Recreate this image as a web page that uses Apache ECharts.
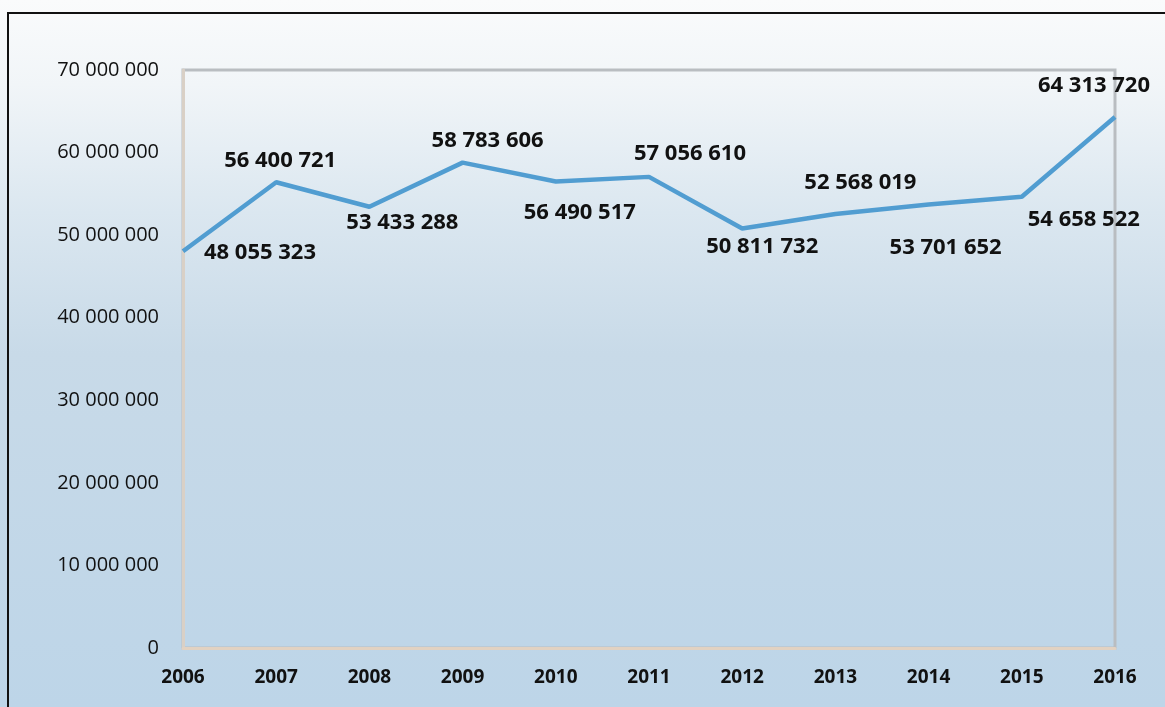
<!DOCTYPE html>
<html>
<head>
<meta charset="utf-8">
<script src="https://cdn.jsdelivr.net/npm/echarts@6/dist/echarts.min.js"></script>
<style>
html,body{margin:0;padding:0;background:#fff;}
#chart{width:1165px;height:707px;}
</style>
</head>
<body>
<div id="chart"></div>
<script>
var years = ['2006','2007','2008','2009','2010','2011','2012','2013','2014','2015','2016'];
var values = [48055323, 56400721, 53433288, 58783606, 56490517, 57056610, 50811732, 52568019, 53701652, 54658522, 64313720];
var labelOffsets = [[77,2],[4,-22],[33,16],[25,-22],[24,31],[41,-23],[20,18],[25,-31],[17,43],[62,23],[-21,-31]];

function fmt(v){
  return String(Math.round(v)).replace(/\B(?=(\d{3})+(?!\d))/g, ' ');
}

var chart = echarts.init(document.getElementById('chart'), null, {renderer:'canvas'});
var seriesData = values.map(function(v,i){
  return {
    value: v,
    label: {offset: labelOffsets[i]}
  };
});

chart.setOption({
  animation: false,
  backgroundColor: {
    type: 'linear', x: 0, y: 0, x2: 0, y2: 1,
    colorStops: [
      {offset: 0, color: '#fafbfc'},
      {offset: 0.12, color: '#f1f5f8'},
      {offset: 0.3, color: '#dbe7f0'},
      {offset: 0.5, color: '#c8dae8'},
      {offset: 1, color: '#bdd5e8'}
    ]
  },
  graphic: [{
    type: 'rect',
    shape: {x: 8, y: 13, width: 1170, height: 710},
    style: {fill: 'none', stroke: '#111', lineWidth: 2},
    silent: true
  }],
  grid: {
    left: 183, right: 50, top: 70, bottom: 59,
    show: true, borderColor: '#b9bdc1', borderWidth: 3,
    backgroundColor: 'transparent'
  },
  xAxis: {
    type: 'category',
    data: years,
    boundaryGap: false,
    axisLine: {show: true, lineStyle: {color: '#e2d2c2', width: 3}},
    axisTick: {show: false},
    splitLine: {show: false},
    axisLabel: {
      color: '#111', fontFamily: 'Open Sans', fontWeight: 'bold', fontSize: 19,
      margin: 20, interval: 0
    }
  },
  yAxis: {
    type: 'value',
    min: 0, max: 70000000, interval: 10000000,
    axisLine: {show: true, lineStyle: {color: '#d9d0c6', width: 3}},
    axisTick: {show: false},
    splitLine: {show: false},
    axisLabel: {
      color: '#111', fontFamily: 'Open Sans', fontSize: 20, margin: 24,
      formatter: function(v){ return fmt(v); }
    }
  },
  series: [{
    type: 'line',
    data: seriesData,
    symbol: 'circle',
    symbolSize: 0,
    showSymbol: true,
    lineStyle: {color: '#519dd1', width: 4.5},
    itemStyle: {color: '#519dd1'},
    label: {
      show: true,
      position: 'inside',
      color: '#111',
      fontFamily: 'Open Sans',
      fontWeight: 'bold',
      fontSize: 22,
      formatter: function(p){ return fmt(p.value); }
    }
  }]
});
</script>
</body>
</html>
